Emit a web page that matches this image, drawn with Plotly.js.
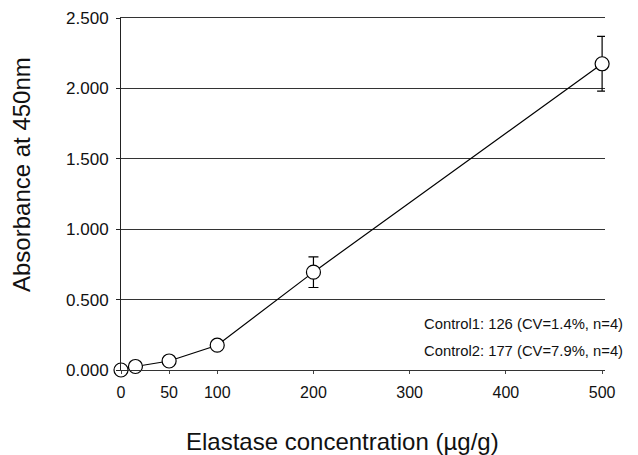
<!DOCTYPE html>
<html>
<head>
<meta charset="utf-8">
<script src="https://cdn.plot.ly/plotly-3.0.1.min.js"></script>
<style>
  html, body { margin: 0; padding: 0; background: #fff; }
  #chart { width: 638px; height: 455px; }
</style>
</head>
<body>
<div id="chart"></div>
<script>
// Standard curve: elastase concentration vs. absorbance
const concentration = [0, 15, 50, 100, 200, 500];
const absorbance = [0.000, 0.025, 0.064, 0.176, 0.695, 2.175];
const absorbanceErr = [0, 0, 0, 0, 0.109, 0.195];

const xTickVals = [0, 50, 100, 200, 300, 400, 500];
const xTickText = ['0', '50', '100', '200', '300', '400', '500'];
const yTickVals = [0, 0.5, 1.0, 1.5, 2.0, 2.5];

const xTitle = 'Elastase concentration (µg/g)';
const yTitle = 'Absorbance at 450nm';
const controlNotes = [
  'Control1: 126 (CV=1.4%, n=4)',
  'Control2: 177 (CV=7.9%, n=4)'
];

const font = 'Arial, "Liberation Sans", sans-serif';
const ink = '#111';

const trace = {
  x: concentration,
  y: absorbance,
  type: 'scatter',
  mode: 'lines+markers',
  line: { color: '#000', width: 1.2 },
  marker: {
    size: 14,
    color: '#fff',
    line: { color: '#000', width: 1.2 }
  },
  error_y: {
    type: 'data',
    array: absorbanceErr,
    visible: true,
    color: '#000',
    thickness: 1.2,
    width: 5
  },
  cliponaxis: false,
  hoverinfo: 'x+y'
};

const layout = {
  width: 638,
  height: 455,
  margin: { l: 121, r: 33, t: 18, b: 85 },
  paper_bgcolor: '#fff',
  plot_bgcolor: '#fff',
  showlegend: false,
  font: { family: font, color: ink },
  xaxis: {
    range: [0, 503],
    tickvals: xTickVals,
    ticktext: xTickText,
    ticks: 'outside',
    ticklen: 3,
    tickcolor: '#444',
    ticklabelstandoff: 5,
    showgrid: false,
    zeroline: false,
    showline: true,
    mirror: true,
    linecolor: '#333',
    linewidth: 1,
    tickfont: { size: 16, family: font, color: ink }
  },
  yaxis: {
    range: [0, 2.5],
    tickvals: yTickVals,
    tickformat: '.3f',
    ticks: 'outside',
    ticklen: 4,
    tickcolor: '#222',
    ticklabelstandoff: 4,
    showgrid: true,
    gridcolor: '#333',
    gridwidth: 1,
    zeroline: false,
    showline: true,
    linecolor: '#222',
    linewidth: 1,
    tickfont: { size: 17, family: font, color: ink }
  },
  annotations: [
    {
      text: xTitle,
      xref: 'paper', yref: 'paper',
      x: 0.4577, y: -0.2045,
      xanchor: 'center', yanchor: 'middle',
      showarrow: false,
      font: { size: 24, family: font, color: ink }
    },
    {
      text: yTitle,
      xref: 'paper', yref: 'paper',
      x: -0.2045, y: 0.554,
      xanchor: 'center', yanchor: 'middle',
      textangle: -90,
      showarrow: false,
      font: { size: 24, family: font, color: ink }
    },
    {
      text: controlNotes[0],
      xref: 'paper', yref: 'paper',
      x: 1.042, y: 0.132,
      xanchor: 'right', yanchor: 'middle',
      showarrow: false,
      font: { size: 14.8, family: font, color: ink }
    },
    {
      text: controlNotes[1],
      xref: 'paper', yref: 'paper',
      x: 1.042, y: 0.055,
      xanchor: 'right', yanchor: 'middle',
      showarrow: false,
      font: { size: 14.8, family: font, color: ink }
    }
  ]
};

Plotly.newPlot('chart', [trace], layout, { displayModeBar: false, staticPlot: true });
</script>
</body>
</html>
